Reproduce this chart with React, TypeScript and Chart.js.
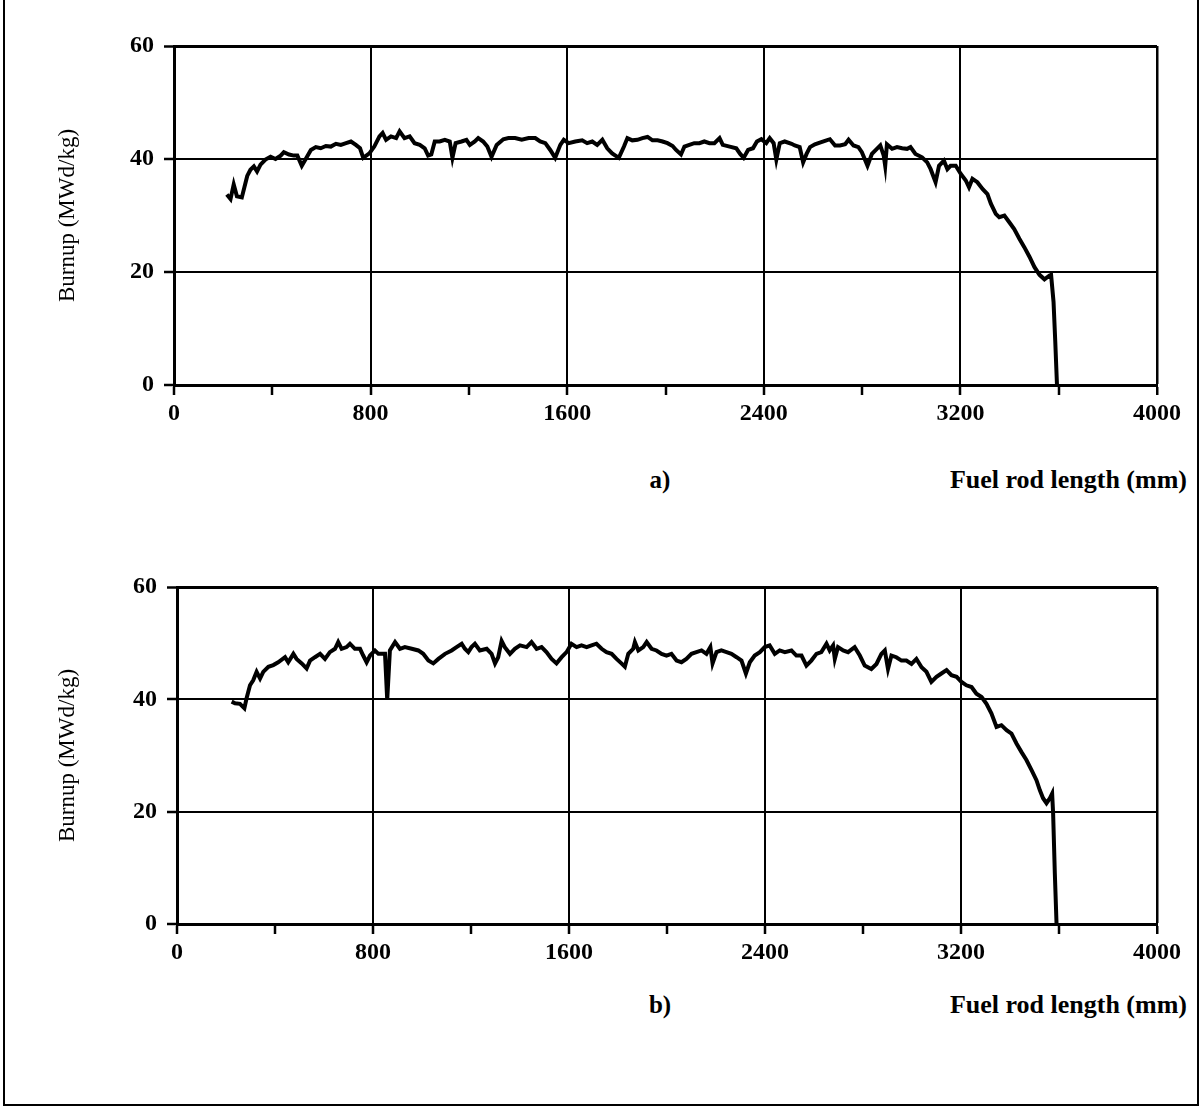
import { useEffect, useRef } from 'react';
import Chart from 'chart.js/auto';

// panel a) burnup along the rod (mm, MWd/kg)
const positionsA = [
  215, 230, 243, 256, 276, 298, 311, 325, 338, 352, 372, 393, 413, 434, 447, 468, 488, 502, 520, 536,
  557, 577, 597, 618, 638, 659, 679, 700, 720, 740, 757, 770, 795, 815, 836, 849, 863, 883, 904, 918,
  938, 959, 979, 1000, 1020, 1034, 1047, 1061, 1081, 1102, 1122, 1133, 1146, 1170, 1190, 1204, 1224, 1238, 1258, 1275,
  1292, 1313, 1340, 1361, 1388, 1415, 1443, 1470, 1490, 1511, 1531, 1551, 1572, 1586, 1606, 1633, 1661, 1681, 1702, 1722,
  1743, 1763, 1783, 1810, 1831, 1845, 1865, 1886, 1906, 1927, 1947, 1968, 1988, 2008, 2029, 2043, 2063, 2077, 2097, 2117,
  2138, 2158, 2179, 2199, 2220, 2233, 2261, 2288, 2304, 2318, 2336, 2356, 2372, 2390, 2410, 2424, 2440, 2451, 2465, 2485,
  2513, 2526, 2546, 2560, 2574, 2588, 2608, 2628, 2649, 2669, 2690, 2710, 2731, 2745, 2765, 2785, 2799, 2822, 2840, 2860,
  2874, 2888, 2894, 2901, 2922, 2942, 2963, 2983, 2997, 3017, 3044, 3065, 3079, 3099, 3113, 3133, 3147, 3160, 3181, 3201,
  3222, 3235, 3249, 3269, 3290, 3310, 3324, 3344, 3358, 3379, 3399, 3419, 3440, 3460, 3481, 3501, 3522, 3542, 3563, 3569,
  3579, 3586, 3593,
];
const burnupA = [
  33.7, 32.9, 35.5, 33.4, 33.2, 37.0, 38.1, 38.7, 37.8, 39.0, 39.9, 40.4, 40.0, 40.6, 41.2, 40.8, 40.6, 40.6, 38.8, 40.0,
  41.6, 42.1, 41.9, 42.3, 42.2, 42.7, 42.5, 42.8, 43.1, 42.5, 41.9, 40.2, 41.0, 42.2, 44.0, 44.6, 43.4, 44.0, 43.7, 44.9,
  43.7, 44.0, 42.8, 42.5, 41.9, 40.6, 40.8, 43.1, 43.1, 43.4, 43.1, 40.2, 42.8, 43.1, 43.4, 42.5, 43.1, 43.7, 43.1, 42.2,
  40.4, 42.5, 43.5, 43.7, 43.7, 43.4, 43.7, 43.7, 43.1, 42.8, 41.6, 40.2, 42.5, 43.4, 42.8, 43.1, 43.3, 42.8, 43.1, 42.5,
  43.4, 41.9, 41.0, 40.2, 42.2, 43.7, 43.3, 43.4, 43.7, 43.9, 43.3, 43.3, 43.1, 42.8, 42.3, 41.6, 40.8, 42.2, 42.5, 42.8,
  42.8, 43.1, 42.8, 42.8, 43.7, 42.5, 42.2, 41.9, 40.9, 40.2, 41.6, 41.9, 43.1, 43.5, 42.8, 43.7, 42.8, 39.9, 42.8, 43.1,
  42.7, 42.4, 42.1, 39.4, 40.9, 42.1, 42.6, 42.9, 43.2, 43.5, 42.4, 42.4, 42.6, 43.4, 42.4, 42.1, 41.2, 38.8, 40.9, 41.8,
  42.4, 40.6, 38.8, 42.6, 41.8, 42.1, 41.9, 41.8, 42.1, 40.9, 40.3, 39.4, 38.2, 35.9, 38.8, 39.7, 38.2, 38.8, 38.8, 37.4,
  36.2, 35.0, 36.5, 35.9, 34.7, 33.8, 32.1, 30.3, 29.7, 30.0, 28.8, 27.6, 25.9, 24.4, 22.7, 20.9, 19.5, 18.7, 19.4, 19.5,
  14.7, 7.7, 0,
];

// panel b)
const positionsB = [
  223, 237, 257, 275, 284, 298, 311, 325, 339, 352, 373, 393, 413, 441, 454, 475, 488, 509, 529, 543,
  563, 584, 604, 624, 645, 658, 672, 692, 706, 726, 747, 760, 774, 788, 808, 822, 849, 858, 869, 890,
  910, 930, 958, 985, 1005, 1026, 1046, 1067, 1094, 1121, 1141, 1162, 1175, 1189, 1202, 1216, 1236, 1264, 1284, 1298,
  1311, 1325, 1338, 1359, 1379, 1400, 1427, 1447, 1468, 1488, 1508, 1529, 1549, 1570, 1590, 1610, 1631, 1651, 1672, 1692,
  1712, 1733, 1753, 1774, 1794, 1814, 1828, 1842, 1862, 1869, 1883, 1903, 1917, 1937, 1957, 1978, 1998, 2018, 2039, 2059,
  2079, 2100, 2120, 2141, 2161, 2177, 2186, 2202, 2222, 2243, 2263, 2284, 2304, 2322, 2338, 2358, 2379, 2399, 2419, 2440,
  2460, 2481, 2508, 2528, 2549, 2569, 2589, 2610, 2630, 2651, 2664, 2678, 2685, 2698, 2719, 2739, 2766, 2787, 2807, 2834,
  2855, 2875, 2889, 2902, 2916, 2936, 2957, 2977, 2998, 3018, 3039, 3059, 3079, 3100, 3120, 3141, 3161, 3182, 3202, 3222,
  3243, 3263, 3284, 3304, 3324, 3345, 3365, 3386, 3406, 3427, 3447, 3467, 3488, 3508, 3522, 3535, 3549, 3563, 3572, 3576,
  3583, 3590,
];
const burnupB = [
  39.6, 39.3, 39.2, 38.4, 40.2, 42.5, 43.4, 44.9, 43.7, 44.9, 45.8, 46.1, 46.6, 47.5, 46.6, 48.1, 47.2, 46.4, 45.5, 46.9,
  47.5, 48.1, 47.2, 48.4, 49.0, 50.2, 49.0, 49.3, 49.9, 49.0, 49.0, 47.8, 46.6, 47.8, 48.7, 48.1, 48.1, 39.9, 48.7, 50.2,
  49.0, 49.3, 49.0, 48.7, 48.1, 46.9, 46.4, 47.2, 48.1, 48.7, 49.3, 49.9, 49.0, 48.4, 49.3, 49.9, 48.7, 49.0, 48.1, 46.4,
  47.5, 50.4, 49.3, 48.1, 49.0, 49.6, 49.3, 50.2, 49.0, 49.3, 48.4, 47.2, 46.4, 47.5, 48.4, 49.9, 49.3, 49.6, 49.3, 49.6,
  49.9, 49.0, 48.4, 48.1, 47.2, 46.4, 45.8, 48.1, 49.0, 50.2, 48.7, 49.3, 50.2, 49.0, 48.7, 48.1, 47.8, 48.1, 46.9, 46.6,
  47.2, 48.1, 48.4, 48.7, 48.1, 49.3, 46.4, 48.4, 48.7, 48.4, 48.1, 47.5, 46.9, 44.6, 46.6, 47.8, 48.4, 49.3, 49.6, 48.1,
  48.7, 48.4, 48.7, 47.8, 47.8, 46.0, 46.9, 48.1, 48.4, 49.9, 48.7, 49.6, 47.2, 49.3, 48.7, 48.4, 49.3, 47.8, 46.0, 45.4,
  46.3, 48.1, 48.7, 45.4, 47.8, 47.5, 46.9, 46.9, 46.3, 47.2, 45.7, 44.9, 43.1, 44.0, 44.6, 45.2, 44.3, 44.0, 43.1, 42.5,
  42.2, 41.0, 40.4, 39.2, 37.5, 35.1, 35.4, 34.5, 33.9, 32.1, 30.6, 29.2, 27.4, 25.6, 23.8, 22.4, 21.5, 22.4, 23.2, 19.7,
  9.0, 0,
];

const xTickValues = [0, 400, 800, 1200, 1600, 2000, 2400, 2800, 3200, 3600, 4000];
const xTickLabels = ['0', '', '800', '', '1600', '', '2400', '', '3200', '', '4000'];
const yTickValues = [0, 20, 40, 60];
const yTickLabels = ['0', '20', '40', '60'];

const FONT = '"Liberation Serif", "DejaVu Serif", serif';
const W = 1201;
const H = 440;

type PanelProps = {
  top: number;
  plotTop: number;
  plotBottom: number;
  plotLeft: number;
  positions: number[];
  values: number[];
  tag: string;
  tagTop: number;
};

function Panel({ top, plotTop, plotBottom, plotLeft, positions, values, tag, tagTop }: PanelProps) {
  const canvasRef = useRef<HTMLCanvasElement>(null);

  useEffect(() => {
    if (!canvasRef.current) return;
    const chart = new Chart(canvasRef.current, {
      type: 'line',
      data: {
        datasets: [{
          data: positions.map((x, i) => ({ x, y: values[i] })),
          borderColor: '#000',
          borderWidth: 4,
          pointRadius: 0,
          tension: 0,
          fill: false,
        }],
      },
      options: {
        animation: false,
        responsive: false,
        devicePixelRatio: 1,
        layout: { padding: { top: plotTop - top, right: 44, left: 0, bottom: 0 } },
        plugins: { legend: { display: false }, tooltip: { enabled: false } },
        scales: {
          x: {
            type: 'linear',
            min: 0,
            max: 4000,
            afterFit: (s: any) => { s.height = top + H - plotBottom; },
            afterBuildTicks: (s: any) => { s.ticks = xTickValues.map((v) => ({ value: v })); },
            ticks: {
              autoSkip: false,
              maxRotation: 0,
              color: '#000',
              padding: 4,
              font: { family: FONT, size: 24, weight: 'bold' },
              callback: (_v: any, i: number) => xTickLabels[i],
            },
            grid: {
              color: (c: any) => (xTickLabels[xTickValues.indexOf(c.tick?.value)] ? '#000' : 'rgba(0,0,0,0)'),
              lineWidth: (c: any) => (c.tick?.value === 4000 ? 2.5 : 2),
              tickColor: '#000',
              tickLength: 10,
              tickWidth: 2.5,
            },
            border: { color: '#000', width: 3 },
          },
          y: {
            min: 0,
            max: 60,
            afterFit: (s: any) => { s.width = plotLeft; },
            afterBuildTicks: (s: any) => { s.ticks = yTickValues.map((v) => ({ value: v })); },
            ticks: {
              color: '#000',
              padding: 10,
              font: { family: FONT, size: 24, weight: 'bold' },
              callback: (_v: any, i: number) => yTickLabels[i],
            },
            grid: {
              color: '#000',
              lineWidth: (c: any) => (c.tick?.value === 60 ? 3 : 2),
              tickColor: '#000',
              tickLength: 10,
              tickWidth: 2.5,
            },
            border: { color: '#000', width: 3 },
            title: {
              display: true,
              text: 'Burnup (MWd/kg)',
              color: '#000',
              font: { family: FONT, size: 23 },
              padding: { top: 54, bottom: 0 },
            },
          },
        },
      },
    });
    return () => chart.destroy();
  }, []);

  return (
    <>
      <canvas
        ref={canvasRef}
        width={W}
        height={H}
        style={{ position: 'absolute', left: 0, top, width: W, height: H }}
      />
      <div style={{ position: 'absolute', left: 640, top: tagTop, width: 40, textAlign: 'center', fontSize: 25, fontWeight: 'bold', lineHeight: '28px' }}>
        {tag}
      </div>
      <div style={{ position: 'absolute', right: W - 1187, top: tagTop, fontSize: 26, fontWeight: 'bold', lineHeight: '28px', whiteSpace: 'nowrap' }}>
        Fuel rod length (mm)
      </div>
    </>
  );
}

export default function App() {
  return (
    <div style={{ position: 'absolute', left: 0, top: 0, width: W, height: 1110, background: '#fff', fontFamily: FONT, color: '#000', overflow: 'hidden' }}>
      <div style={{ position: 'absolute', left: 3, top: -4, width: 1192, height: 1108, borderLeft: '2px solid #000', borderRight: '2px solid #000', borderBottom: '2px solid #000' }} />
      <Panel top={0} plotTop={46} plotBottom={385} plotLeft={174} positions={positionsA} values={burnupA} tag="a)" tagTop={466} />
      <Panel top={540} plotTop={587} plotBottom={924} plotLeft={177} positions={positionsB} values={burnupB} tag="b)" tagTop={991} />
    </div>
  );
}
